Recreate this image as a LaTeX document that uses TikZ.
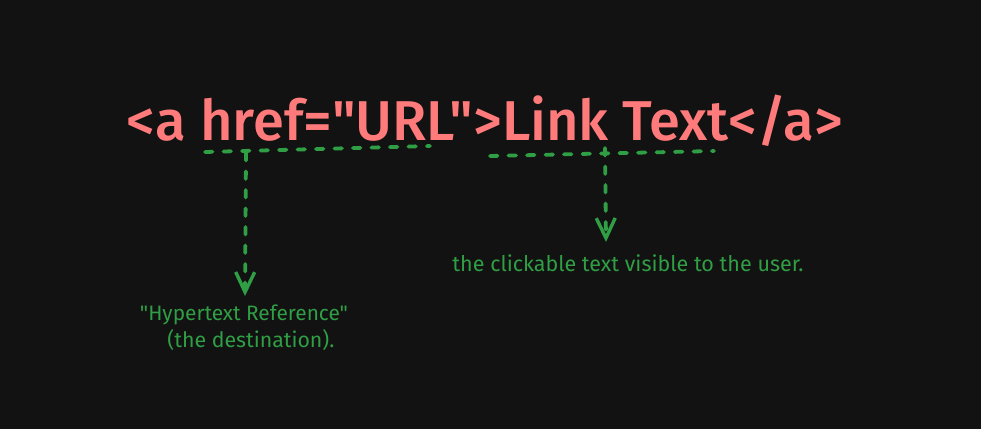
\documentclass[tikz,border=0pt]{standalone}
\usepackage{fontspec}
\setmainfont{Fira Sans}
\newfontfamily\medfont{Fira Sans Medium}
\newfontfamily\notefont{Fira Sans}
\usetikzlibrary{arrows.meta}
\definecolor{bg}{HTML}{121212}
\definecolor{codered}{HTML}{FF7B7B}
\definecolor{annot}{HTML}{2F9E44}
\tikzset{
  dashline/.style={draw=annot, line width=3.8pt, line cap=round, dash pattern=on 7.5pt off 11pt},
  arrowline/.style={dashline, -{Straight Barb[length=20pt,width=19pt,line width=3.4pt]}},
  notetext/.style={text=annot, inner sep=0pt, align=center, font=\notefont},
}
\begin{document}
\begin{tikzpicture}[x=1pt,y=-1pt]
\fill[bg] (0,0) rectangle (981,429);
\useasboundingbox (0,0) rectangle (981,429);
\node[text=codered, inner sep=0pt, anchor=base] (code) at (485,140)
  {\resizebox{716pt}{!}{\medfont\textless a href="URL"\textgreater Link Text\textless/a\textgreater}};
% annotation 1
\coordinate (h1a) at (205,152);
\coordinate (h1b) at (430,146);
\coordinate (v1) at (246,153);
\coordinate (t1) at (245,296);
\draw[dashline] (h1a) -- (h1b);
\draw[arrowline] (v1) -- (t1);
\node[notetext, anchor=north] (lab1) at (244,305)
  {\resizebox{208pt}{!}{"Hypertext Reference"}\\[3pt]\hspace*{14pt}\resizebox{167pt}{!}{(the destination).}};
% annotation 2
\coordinate (h2a) at (490,156);
\coordinate (h2b) at (714,151);
\coordinate (v2) at (605,148);
\coordinate (t2) at (606,242);
\draw[dashline] (h2a) -- (h2b);
\draw[arrowline] (v2) -- (t2);
\node[notetext, anchor=north] (lab2) at (628,255)
  {\resizebox{351pt}{!}{the clickable text visible to the user.}};
\end{tikzpicture}
\end{document}
